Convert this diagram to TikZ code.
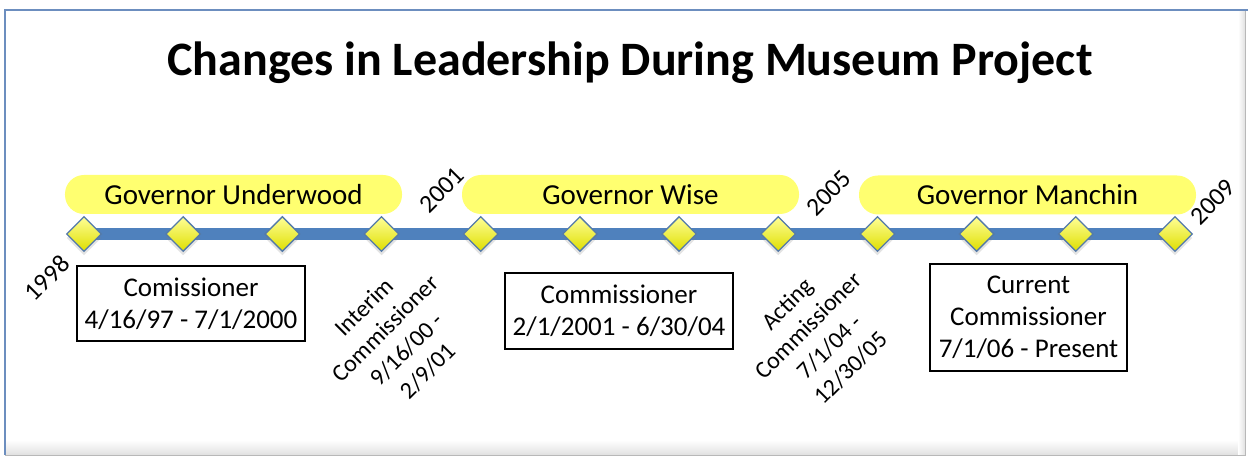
\documentclass[tikz,border=0pt]{standalone}
\usepackage{fontspec}
\setmainfont{Carlito}
\usetikzlibrary{shapes.geometric,shadows}
\definecolor{barblue}{RGB}{79,129,189}
\definecolor{frameblue}{RGB}{108,142,191}
\definecolor{govyellow}{RGB}{255,255,112}
\definecolor{dborder}{RGB}{84,122,168}
\definecolor{gemtop}{RGB}{255,255,150}
\definecolor{gembot}{RGB}{222,222,0}
\tikzset{
  gem/.style={diamond, minimum width=35bp, minimum height=35bp, inner sep=0pt,
    draw=dborder, line width=1.3bp, top color=gemtop, middle color=yellow, bottom color=gembot,
    drop shadow={shadow xshift=0bp, shadow yshift=-4bp, opacity=0.22}},
  gov/.style={fill=govyellow, rounded corners=19bp, minimum width=337bp, minimum height=39bp,
    inner sep=0pt, font=\fontsize{29bp}{32bp}\selectfont},
  infobox/.style={draw=black, line width=1.5bp, inner sep=0pt, align=center,
    font=\fontsize{27bp}{32bp}\selectfont},
  rotlabel/.style={rotate=45, align=center, inner sep=0pt, font=\fontsize{24bp}{30bp}\selectfont},
  yearlabel/.style={rotate=45, inner sep=0pt, font=\fontsize{25.5bp}{28bp}\selectfont}
}
\begin{document}
\begin{tikzpicture}[x=1bp,y=-1bp]
\useasboundingbox (0,0) rectangle (1248,457);
\fill[white] (0,0) rectangle (1248,457);
% frame with shadow
\shade[top color=white, bottom color=black!12] (5,440) rectangle (1245,455);
\shade[left color=white, right color=black!12] (1238,10) rectangle (1245,455);
\draw[black!28, line width=1bp] (5,455.5) -- (1245.5,455.5) -- (1245.5,10);
\draw[frameblue, line width=2.5bp] (5,455) -- (5,10) -- (1248,10);

% title
\node[font=\fontsize{48bp}{54bp}\selectfont\bfseries, anchor=base, inner sep=0pt] (title) at (630,76)
  {Changes in Leadership During Museum Project};

% governor bubbles
\node[gov] (g1) at (233.5,194.5) {Governor Underwood};
\node[gov] (g2) at (630.5,194.5) {Governor Wise};
\node[gov] (g3) at (1027.5,195) {Governor Manchin};

% timeline
\foreach \i in {0,...,11} \coordinate (c\i) at ({84+99.18*\i},234);
\draw[barblue, line width=12bp] (c0) -- (c11);
\foreach \i in {0,...,11} \node[gem] (d\i) at (c\i) {};

% years
\node[yearlabel] (y1998) at (47,278) {1998};
\node[yearlabel] (y2001) at (442,190) {2001};
\node[yearlabel] (y2005) at (829,193) {2005};
\node[yearlabel] (y2009) at (1213,202) {2009};

% boxes
\node[infobox, minimum width=228bp, minimum height=75bp] (b1) at (191,303.5)
  {Comissioner\\4/16/97 - 7/1/2000};
\node[infobox, minimum width=228bp, minimum height=76bp] (b2) at (619,311)
  {Commissioner\\2/1/2001 - 6/30/04};
\node[infobox, minimum width=197bp, minimum height=107bp] (b3) at (1028.5,317.5)
  {Current\\Commissioner\\7/1/06 - Present};

% rotated labels
\node[rotlabel] (l1) at (396,339) {Interim\\Commissioner\\9/16/00 -\\2/9/01};
\node[rotlabel] (l2) at (819,336) {Acting\\Commissioner\\7/1/04 -\\12/30/05};
\end{tikzpicture}
\end{document}
